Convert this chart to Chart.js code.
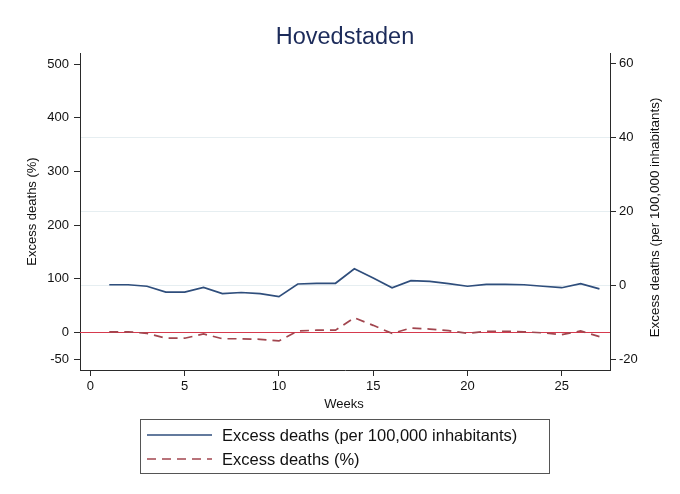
<!DOCTYPE html>
<html><head><meta charset="utf-8">
<script src="https://cdn.jsdelivr.net/npm/chart.js@4.4.1/dist/chart.umd.min.js"></script>
<style>html,body{margin:0;padding:0;background:#fff;}#wrap{width:680px;height:494px;position:relative}</style>
</head><body><div id="wrap"><canvas id="c" width="680" height="494"></canvas></div>
<script>
const chartTitle = 'Hovedstaden';
const xTitle = 'Weeks';
const leftTitle = 'Excess deaths (%)';
const rightTitle = 'Excess deaths (per 100,000 inhabitants)';
const labelPerCapita = 'Excess deaths (per 100,000 inhabitants)';
const labelPercent = 'Excess deaths (%)';
const weeks = [1,2,3,4,5,6,7,8,9,10,11,12,13,14,15,16,17,18,19,20,21,22,23,24,25,26,27];
const perCapita = [0.2,0.2,-0.2,-1.8,-1.8,-0.5,-2.2,-1.9,-2.2,-3.0,0.4,0.6,0.6,4.5,2.0,-0.6,1.3,1.1,0.5,-0.2,0.3,0.3,0.2,-0.2,-0.6,0.5,-0.9];
const percent = [1,1,-2,-11,-11,-3,-12,-12,-13,-16,2.5,4,4,27,13,-2,8,6,3,-2,2,2,1,-1,-4.5,2.5,-8];
const xTicks = [0,5,10,15,20,25];
const leftTicks = [-50,0,100,200,300,400,500];
const rightTicks = [-20,0,20,40,60];
const rightGridValues = [0,20,40];
const referenceValue = 0;

const FONT = '"Liberation Sans", Arial, Helvetica, sans-serif';
const BLUE = '#2f4e7c';
const RED = '#a2464f';
const REF = '#d63a4e';
const AX = '#2a2a2a';

const overlay = {
  id: 'overlay',
  beforeDatasetsDraw(chart) {
    const {ctx, chartArea, scales} = chart;
    const y = Math.round(scales.y.getPixelForValue(referenceValue)) + 0.5;
    ctx.save();
    ctx.strokeStyle = REF; ctx.lineWidth = 1.2;
    ctx.beginPath(); ctx.moveTo(chartArea.left, y); ctx.lineTo(chartArea.right, y); ctx.stroke();
    ctx.restore();
  },
  afterDraw(chart) {
    const {ctx, chartArea} = chart;
    ctx.save();
    ctx.fillStyle = '#1c2b5a';
    ctx.font = '23.5px ' + FONT;
    ctx.textAlign = 'center'; ctx.textBaseline = 'alphabetic';
    ctx.fillText(chartTitle, 345, 44);
    ctx.fillStyle = '#111';
    ctx.font = '13px ' + FONT;
    ctx.textBaseline = 'middle';
    ctx.fillText(xTitle, 344, 404);
    const midY = (chartArea.top + chartArea.bottom) / 2;
    ctx.save(); ctx.translate(32, midY); ctx.rotate(-Math.PI/2); ctx.fillText(leftTitle, 0, 0); ctx.restore();
    ctx.font = '13.4px ' + FONT;
    ctx.save(); ctx.translate(655, midY + 6); ctx.rotate(-Math.PI/2); ctx.fillText(rightTitle, 0, 0); ctx.restore();
    // legend
    ctx.strokeStyle = '#555'; ctx.lineWidth = 1;
    ctx.strokeRect(140.5, 419.5, 409, 54);
    const rows = [[labelPerCapita, BLUE, []],[labelPercent, RED, [9,6]]];
    rows.forEach((r, i) => {
      const yy = 435 + i * 24;
      ctx.strokeStyle = r[1]; ctx.lineWidth = 1.5; ctx.setLineDash(r[2]);
      ctx.beginPath(); ctx.moveTo(147, yy); ctx.lineTo(212, yy); ctx.stroke();
      ctx.setLineDash([]);
      ctx.fillStyle = '#111'; ctx.font = '16.5px ' + FONT; ctx.textAlign = 'left';
      ctx.fillText(r[0], 222, yy + 1);
    });
    ctx.restore();
  }
};

const tickFont = {family: FONT, size: 13};

new Chart(document.getElementById('c'), {
  type: 'line',
  data: {
    datasets: [
      {label: labelPerCapita, data: weeks.map((w,i)=>({x:w, y:perCapita[i]})), yAxisID: 'y2',
       borderColor: BLUE, borderWidth: 1.7, pointRadius: 0, tension: 0, fill: false},
      {label: labelPercent, data: weeks.map((w,i)=>({x:w, y:percent[i]})), yAxisID: 'y',
       borderColor: RED, borderWidth: 1.7, borderDash: [9,6], pointRadius: 0, tension: 0, fill: false}
    ]
  },
  options: {
    responsive: false, animation: false, devicePixelRatio: 1,
    layout: {padding: {top: 53, left: 0, right: 0, bottom: 0}},
    plugins: {legend: {display: false}, title: {display: false}, tooltip: {enabled: false}},
    scales: {
      x: {type: 'linear', min: -0.552, max: 27.56,
        afterFit(s){ s.height = 124; },
        afterBuildTicks(s){ s.ticks = xTicks.map(v=>({value:v})); },
        grid: {drawOnChartArea: false, tickLength: 6, tickColor: AX},
        border: {color: AX, width: 1},
        ticks: {font: tickFont, color: '#111', padding: 3, maxRotation: 0, autoSkip: false}},
      y: {position: 'left', min: -70.3, max: 521,
        afterFit(s){ s.width = 80; },
        afterBuildTicks(s){ s.ticks = leftTicks.map(v=>({value:v})); },
        grid: {drawOnChartArea: false, tickLength: 6, tickColor: AX},
        border: {color: AX, width: 1},
        ticks: {font: tickFont, color: '#111', padding: 5, autoSkip: false}},
      y2: {position: 'right', min: -22.84, max: 62.84,
        afterFit(s){ s.width = 70; },
        afterBuildTicks(s){ s.ticks = rightTicks.map(v=>({value:v})); },
        grid: {drawOnChartArea: true, tickLength: 6, tickColor: AX, lineWidth: 1,
          color: c => (c.tick && rightGridValues.includes(c.tick.value)) ? '#e6eef1' : 'rgba(0,0,0,0)'},
        border: {color: AX, width: 1},
        ticks: {font: tickFont, color: '#111', padding: 3, autoSkip: false}}
    }
  },
  plugins: [overlay]
});
</script></body></html>
